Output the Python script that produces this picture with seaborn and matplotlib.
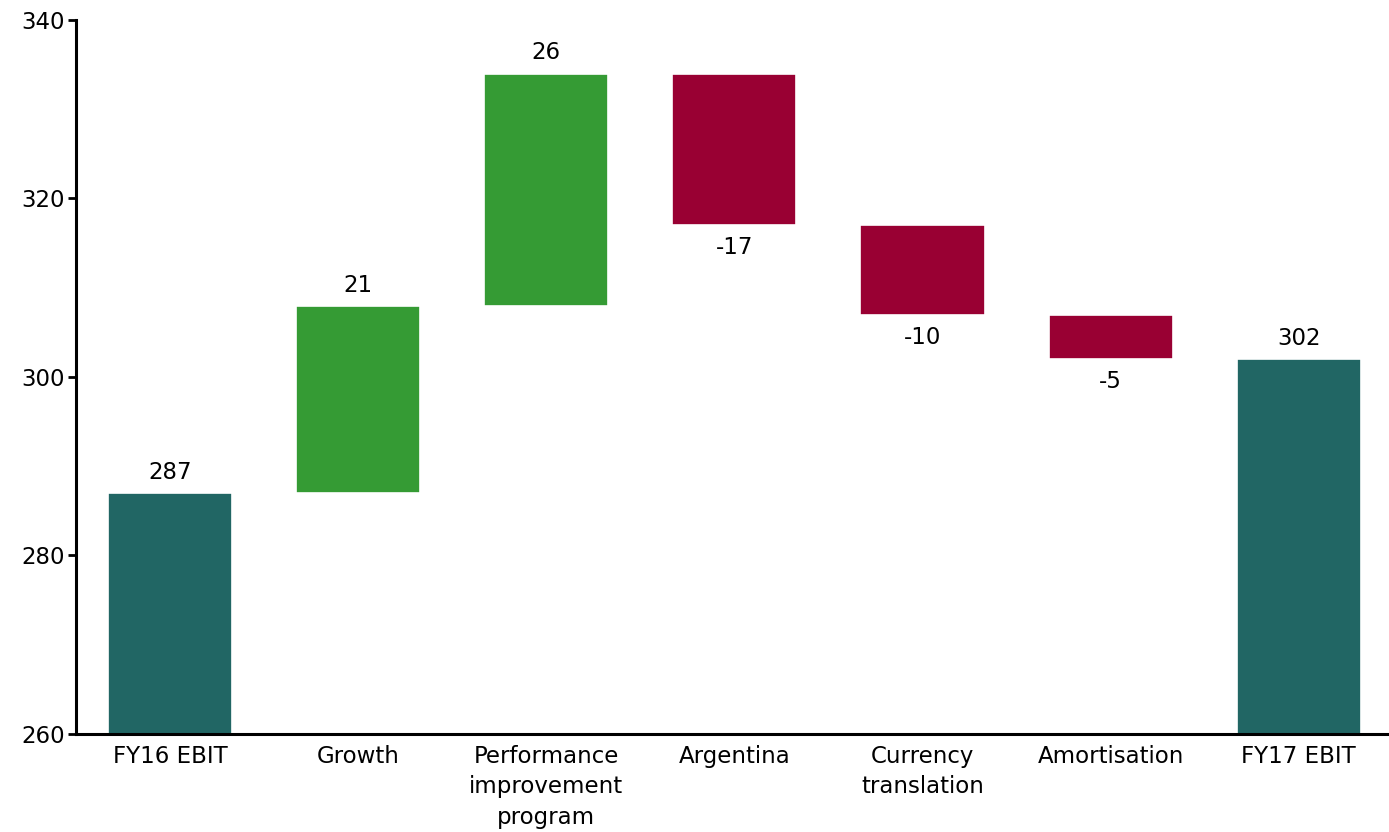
import numpy as np
import pandas as pd
import matplotlib
matplotlib.use("Agg")
import matplotlib.pyplot as plt
import seaborn as sns

categories = ["FY16 EBIT", "Growth", "Performance\nimprovement\nprogram", "Argentina",
              "Currency\ntranslation", "Amortisation", "FY17 EBIT"]
values = [287, 21, 26, -17, -10, -5, 302]
kinds = ["total", "delta", "delta", "delta", "delta", "delta", "total"]
labels = ["287", "21", "26", "-17", "-10", "-5", "302"]

col_total = "#216664"
col_up = "#359b34"
col_down = "#990033"

# waterfall geometry derived from values
bottoms, heights, colors = [], [], []
running = 0
for v, k in zip(values, kinds):
    if k == "total":
        bottoms.append(0)
        heights.append(v)
        colors.append(col_total)
        running = v
    else:
        if v >= 0:
            bottoms.append(running)
            heights.append(v)
            colors.append(col_up)
        else:
            bottoms.append(running + v)
            heights.append(-v)
            colors.append(col_down)
        running += v

df = pd.DataFrame({"cat": categories, "height": heights})

sns.set_theme(style="white")
plt.rcParams['font.family'] = ['DejaVu Sans']

fig = plt.figure(figsize=(13.89, 8.32), dpi=100)
ax = fig.add_axes([0.0547, 0.1178, 0.9453, 0.8582])

sns.barplot(data=df, x="cat", y="height", color=col_total,
            bottom=bottoms, width=0.66, edgecolor="white", linewidth=1.2,
            saturation=1, ax=ax)
for p, c in zip(ax.patches, colors):
    p.set_facecolor(c)

ax.set_ylim(260, 340)
ax.set_xlim(-0.5, 6.48)
ax.set_yticks([260, 280, 300, 320, 340])
ax.set_xlabel("")
ax.set_ylabel("")

fs = 16.5
for i, (v, b, h) in enumerate(zip(values, bottoms, heights)):
    if v >= 0:
        ax.annotate(labels[i], (i, b + h), xytext=(0, 6.5), textcoords="offset points",
                    ha="center", va="bottom", fontsize=fs, color="black")
    else:
        ax.annotate(labels[i], (i, b), xytext=(0, -8), textcoords="offset points",
                    ha="center", va="top", fontsize=fs, color="black")

for s in ["top", "right"]:
    ax.spines[s].set_visible(False)
for s in ["left", "bottom"]:
    ax.spines[s].set_visible(True)
    ax.spines[s].set_color("black")
    ax.spines[s].set_linewidth(2.2)

ax.tick_params(axis="y", left=True, length=6, width=2, color="black", labelsize=fs,
               labelcolor="black", pad=2)
ax.tick_params(axis="x", bottom=False, labelsize=fs, labelcolor="black", pad=2)
for t in ax.get_xticklabels():
    t.set_linespacing(1.4)

fig.savefig("out.png", dpi=100)
